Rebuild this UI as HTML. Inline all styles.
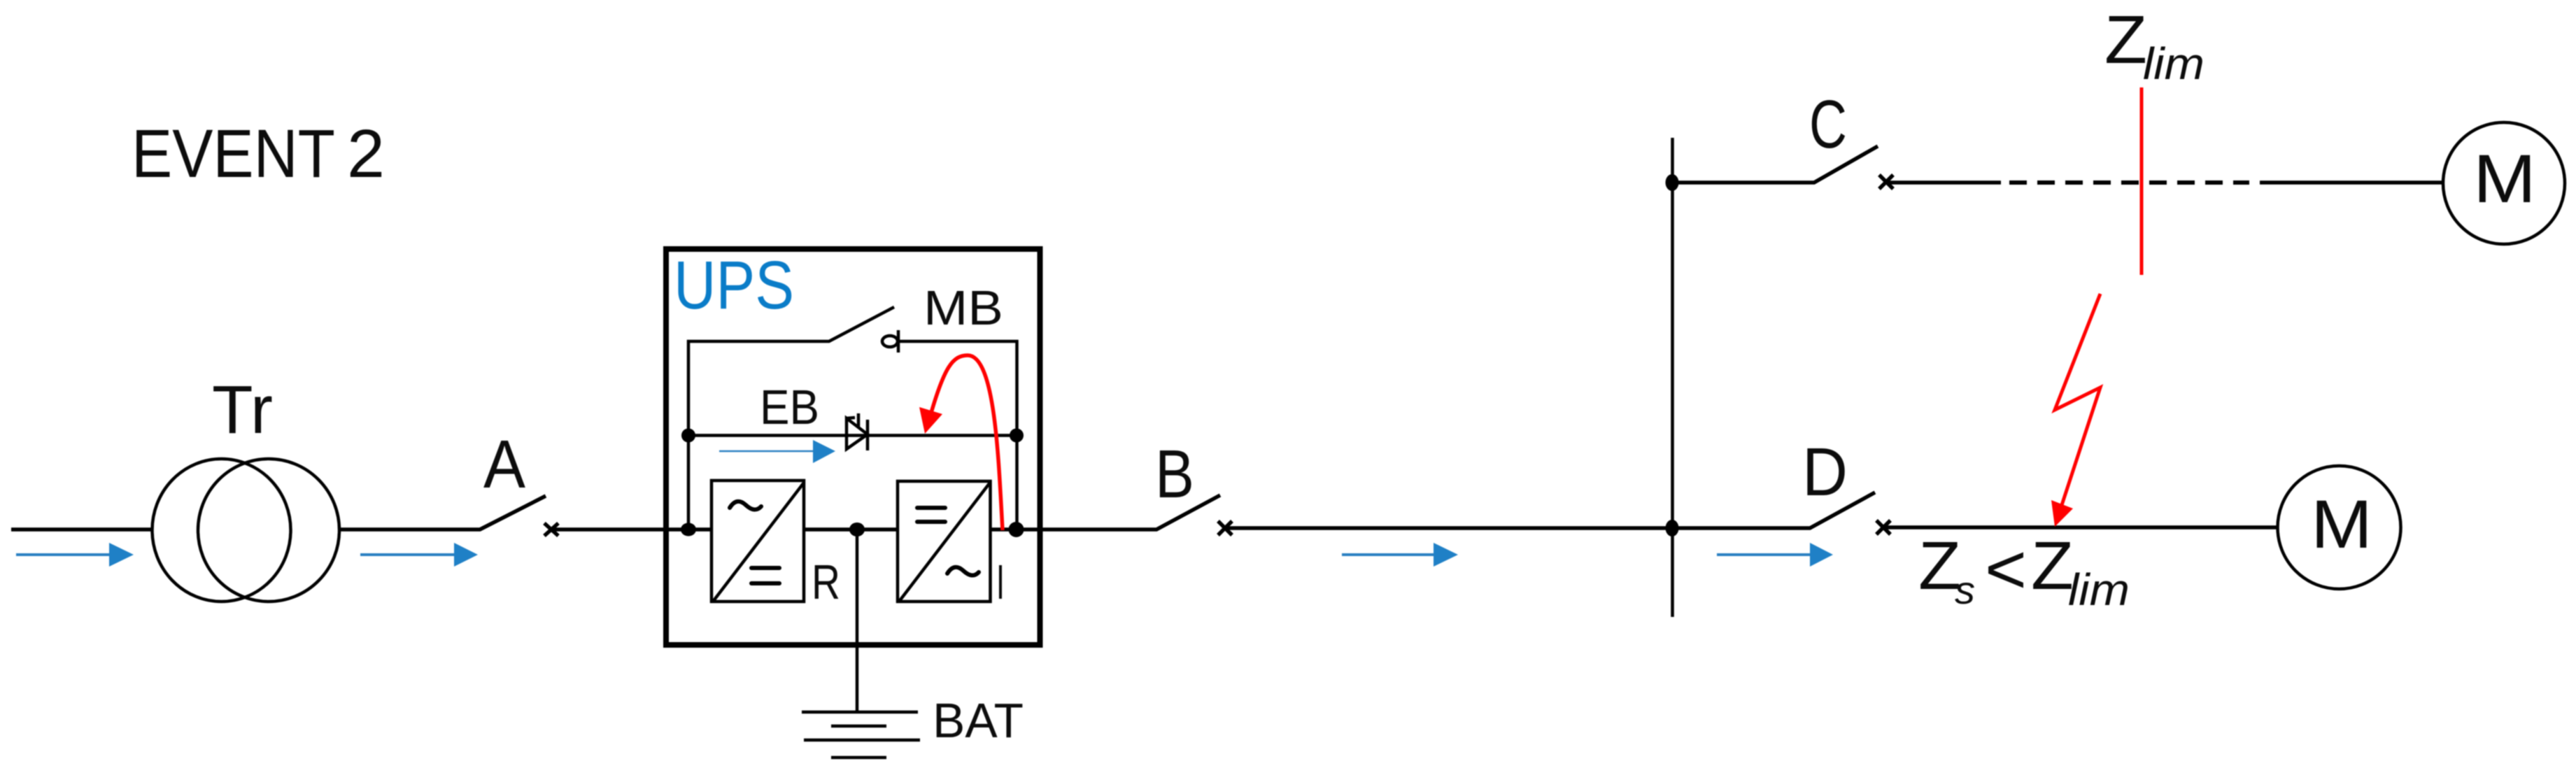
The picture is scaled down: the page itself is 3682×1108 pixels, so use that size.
<!DOCTYPE html>
<html>
<head>
<meta charset="utf-8">
<style>
html,body{margin:0;padding:0;background:#fff;width:3682px;height:1108px;overflow:hidden}
svg{display:block;filter:blur(0.7px)}
text{font-family:"Liberation Sans",sans-serif;fill:#0c0c0c}
.l{stroke:#000;stroke-width:5.500;fill:none}
.t{stroke:#000;stroke-width:4.500;fill:none}
.b{stroke:#2a80c2;stroke-width:4;fill:none}
.bf{fill:#1f80c6}
.e{stroke:#000;stroke-width:6;stroke-linecap:round;fill:none}
</style>
</head>
<body>
<svg width="3682" height="1108" viewBox="0 0 3682 1108" xmlns="http://www.w3.org/2000/svg">
<!-- labels -->
<text x="188" y="253" font-size="97" textLength="291" lengthAdjust="spacingAndGlyphs">EVENT</text>
<text x="496" y="253" font-size="97" textLength="54" lengthAdjust="spacingAndGlyphs">2</text>
<text x="303" y="619" font-size="97" textLength="87" lengthAdjust="spacingAndGlyphs">Tr</text>
<text x="691" y="697" font-size="97" textLength="60" lengthAdjust="spacingAndGlyphs">A</text>
<text x="1651" y="711" font-size="97" textLength="56" lengthAdjust="spacingAndGlyphs">B</text>
<text x="2586" y="211" font-size="97" textLength="54" lengthAdjust="spacingAndGlyphs">C</text>
<text x="2576" y="708" font-size="97" textLength="65" lengthAdjust="spacingAndGlyphs">D</text>
<text x="963" y="441" font-size="97" textLength="172" lengthAdjust="spacingAndGlyphs" style="fill:#0a7cc8">UPS</text>
<text x="1320" y="464" font-size="70" textLength="114" lengthAdjust="spacingAndGlyphs">MB</text>
<text x="1086" y="606" font-size="70" textLength="85" lengthAdjust="spacingAndGlyphs">EB</text>
<text x="1160" y="856" font-size="70" textLength="41" lengthAdjust="spacingAndGlyphs">R</text>
<text x="1424" y="856" font-size="70" textLength="12" lengthAdjust="spacingAndGlyphs">I</text>
<text x="1333" y="1054" font-size="70" textLength="130" lengthAdjust="spacingAndGlyphs">BAT</text>
<text x="3535" y="289" font-size="97" textLength="90" lengthAdjust="spacingAndGlyphs">M</text>
<text x="3303" y="783" font-size="97" textLength="88" lengthAdjust="spacingAndGlyphs">M</text>
<text x="3008" y="90" font-size="97" textLength="61" lengthAdjust="spacingAndGlyphs">Z</text>
<text x="3063" y="113" font-size="64" textLength="88" lengthAdjust="spacingAndGlyphs" font-style="italic">lim</text>
<text x="2742" y="842" font-size="97" textLength="61" lengthAdjust="spacingAndGlyphs">Z</text>
<text x="2794" y="863" font-size="56" textLength="29" lengthAdjust="spacingAndGlyphs" font-style="italic">s</text>
<text x="2837" y="848" font-size="100" textLength="60" lengthAdjust="spacingAndGlyphs">&lt;</text>
<text x="2903" y="842" font-size="97" textLength="61" lengthAdjust="spacingAndGlyphs">Z</text>
<text x="2956" y="865" font-size="64" textLength="88" lengthAdjust="spacingAndGlyphs" font-style="italic">lim</text>

<!-- transformer & feeder -->
<path class="l" d="M16 757H217M485 757H686L780 709M788 757H1017"/>
<ellipse class="t" cx="316.500" cy="758" rx="99" ry="102"/>
<ellipse class="t" cx="384" cy="758" rx="101" ry="102"/>
<path class="l" d="M778 748l20 18M798 748l-20 18"/>

<!-- UPS box -->
<rect x="952" y="356" width="534.500" height="566" fill="none" stroke="#000" stroke-width="8"/>
<path class="t" d="M984 757V488H1185L1278 439M1284 488H1453.500V757M984 622.500H1453"/>
<ellipse class="t" cx="1272" cy="488" rx="11" ry="8"/>
<path class="t" d="M1284 472V504"/>
<!-- diode -->
<path class="t" stroke-width="5" d="M1210 598V642L1240 621ZM1240 600V644M1210 598L1222 597M1227 591V612"/>
<circle cx="984" cy="622.500" r="10"/>
<circle cx="1453" cy="622.500" r="10"/>
<ellipse cx="984" cy="757" rx="11" ry="9.500"/>
<ellipse cx="1452.500" cy="757" rx="11" ry="11"/>
<ellipse cx="1225" cy="757" rx="11" ry="10"/>
<!-- rectifier -->
<rect class="t" x="1017" y="687" width="132" height="173"/>
<path class="t" d="M1019 860L1149 690"/>
<path class="e" stroke-width="5" d="M1043 726q10 -16 23 -4t22 2"/>
<path class="e" d="M1074 812H1114M1074 834H1114"/>
<!-- inverter -->
<rect class="t" x="1283" y="688" width="132.500" height="172"/>
<path class="t" d="M1285 860L1415 690"/>
<path class="e" d="M1311 726H1351M1311 746H1351"/>
<path class="e" d="M1354 820q10 -16 23 -4t22 2"/>
<path class="l" d="M1149 757H1283M1416 757H1653L1744 708"/>
<!-- battery -->
<path class="t" d="M1225 757V1019M1146 1018H1312M1188 1038H1267M1149 1058H1315M1188 1083H1267"/>
<!-- red curve -->
<path d="M1433 758C1427 650 1422 508 1383 508C1362 508 1350 525 1331 590" fill="none" stroke="#f00" stroke-width="5.500"/>
<path d="M1322 620L1314 582L1347 592Z" fill="#f00"/>

<!-- blue arrows -->
<path class="b" d="M23 793H160M515 793H652M1918 793H2052M2454 793H2590"/>
<path class="bf" d="M156 776L191 793L156 810ZM649 776L683 793L649 810ZM2049 776L2084 793L2049 810ZM2587 776L2620 793L2587 810Z"/>
<path d="M1028 645H1165" stroke="#2a80c2" stroke-width="2.500" fill="none"/>
<path class="bf" d="M1162 629L1194 645L1162 662Z"/>

<!-- B switch, bus -->
<path class="l" d="M1751 755H2587L2680 704"/>
<path class="l" d="M1741 745l20 20M1761 745l-20 20"/>
<path d="M2390.500 197V882" stroke="#000" stroke-width="4.500" fill="none"/>
<ellipse cx="2390" cy="755" rx="9.500" ry="12"/>
<ellipse cx="2390" cy="261" rx="9.500" ry="12"/>
<!-- D -->
<path class="l" d="M2682 744l20 20M2702 744l-20 20"/>
<path class="l" d="M2692 754H3255"/>
<circle class="t" cx="3343.500" cy="754" r="88"/>
<!-- C -->
<path class="l" d="M2390 261H2593L2684 209"/>
<path class="l" d="M2686 250l20 20M2706 250l-20 20"/>
<path class="l" d="M2696 261H2860M3230 261H3492"/>
<path d="M2872 261H3215" stroke="#000" stroke-width="6" stroke-dasharray="25 15" fill="none"/>
<circle class="t" cx="3579" cy="262" r="87"/>
<!-- red -->
<path d="M3061 125V393" stroke="#f00" stroke-width="5" fill="none"/>
<path d="M3002 420L2937 586L3002 554L2947 722" stroke="#f00" stroke-width="5" fill="none"/>
<path d="M2937 753L2932 715L2963 727Z" fill="#f00"/>
</svg>
</body>
</html>
